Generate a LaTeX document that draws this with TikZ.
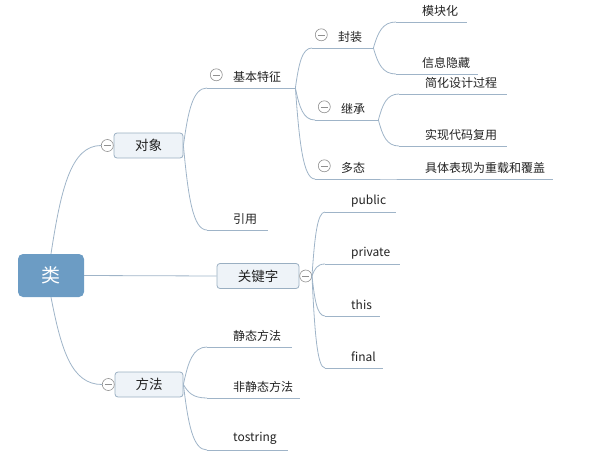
\documentclass[tikz,border=0pt]{standalone}
\usepackage{fontspec}
\setmainfont{Noto Sans CJK SC}
\usepackage{tikz}
\usetikzlibrary{positioning,calc}
\definecolor{linecol}{HTML}{9FB4C8}
\definecolor{rootfill}{HTML}{6C9CC4}
\definecolor{boxfill}{HTML}{EEF3F8}
\definecolor{boxline}{HTML}{9AAFC2}
\definecolor{foldline}{HTML}{909090}
\definecolor{textcol}{HTML}{222222}

\begin{document}
\begin{tikzpicture}[
  x=1pt, y=-1pt,
  link/.style={draw=linecol, line width=0.8pt,
    to path={let \p1=(\tikztostart), \p2=(\tikztotarget) in
      .. controls ({\x1+0.2*(\x2-\x1)},{\y1+0.6*(\y2-\y1)}) and ({\x1+0.4*(\x2-\x1)},{\y2}) .. (\tikztotarget) \tikztonodes}},
  straight/.style={draw=linecol, line width=0.8pt},
  rootbox/.style={rectangle, rounded corners=5pt, fill=rootfill, text=white, font=\fontsize{19}{21}\selectfont, minimum width=66pt, minimum height=43pt},
  mainbox/.style={rectangle, rounded corners=3pt, draw=boxline, fill=boxfill, text=textcol, font=\fontsize{13.5}{16}\selectfont, minimum height=25pt, line width=0.8pt},
  topic/.style={anchor=south west, inner sep=0pt, minimum height=22pt, text width=#1, align=left, text=textcol,
    font=\fontsize{12}{14}\selectfont, execute at begin node={\hspace*{26pt}},
    append after command={(\tikzlastnode.south west) edge[straight] (\tikzlastnode.south east)}},
  fold/.style={circle, draw=foldline, fill=white, minimum size=12pt, inner sep=0pt, line width=0.6pt,
    path picture={\draw[foldline, line width=0.6pt] ([xshift=2.5pt]path picture bounding box.west) -- ([xshift=-2.5pt]path picture bounding box.east);}},
  subfold/.style={fold, yshift=2pt}
]
\useasboundingbox (0,0) rectangle (598,472);

% Level 0
\node[rootbox] (cls) at (51,275.5) {类};

% Level 1
\node[mainbox, minimum width=69pt] (obj) at (148.5,145.5) {对象};
\node[mainbox, minimum width=82pt] (kw) at (258,276) {关键字};
\node[mainbox, minimum width=68pt] (mtd) at (149,384.5) {方法};
\node[fold, left=0pt of obj] (objf) {};
\node[fold, right=0pt of kw] (kwf) {};
\node[fold, left=0pt of mtd] (mtdf) {};

\draw[link] (cls.north) to (objf.west);
\draw[straight] (cls.east) -- (kw.west);
\draw[link] (cls.south) to (mtdf.west);

% Level 2 (for obj)
\node[topic=88] (jbtz) at (207,88) {基本特征};
\node[topic=61] (yy) at (207,230) {引用};
\node[subfold, right=3pt of jbtz.west] (jbtzf) {};

\draw[link] (obj.east) to (jbtz.south west);
\draw[link] (obj.east) to (yy.south west);

% Level 3 (for jbtz)
\node[topic=61] (fz) at (312,48) {封装};
\node[topic=63] (jc) at (315,120) {继承};
\node[topic=63] (dt) at (315,179) {多态};
\node[subfold, right=3pt of fz.west] (fzf) {};
\node[subfold, right=3pt of jc.west] (jcf) {};
\node[subfold, right=3pt of dt.west] (dtf) {};

\draw[link] (jbtz.south east) to (fz.south west);
\draw[link] (jbtz.south east) to (jc.south west);
\draw[link] (jbtz.south east) to (dt.south west);

% Level 4
\node[topic=71] (mkh) at (396,22) {模块化};
\node[topic=82] (xxyc) at (396,74) {信息隐藏};
\node[topic=108] (jhsj) at (399,94) {简化设计过程};
\node[topic=108] (sxdm) at (399,146) {实现代码复用};
\node[topic=154] (jtbx) at (399,179) {具体表现为重载和覆盖};

\draw[link] (fz.south east) to (mkh.south west);
\draw[link] (fz.south east) to (xxyc.south west);
\draw[link] (jc.south east) to (jhsj.south west);
\draw[link] (jc.south east) to (sxdm.south west);
\draw[link] (dt.south east) to (jtbx.south west);

% Level 2 (for kw)
\node[topic=71] (pub) at (325,212) {public};
\node[topic=75] (pri) at (325,264) {private};
\node[topic=55] (ths) at (325,316) {this};
\node[topic=58] (fin) at (325,368) {final};

\draw[link] (kwf.east) to (pub.south west);
\draw[link] (kwf.east) to (pri.south west);
\draw[link] (kwf.east) to (ths.south west);
\draw[link] (kwf.east) to (fin.south west);

% Level 2 (for mtd)
\node[topic=85] (jtff) at (207,347) {静态方法};
\node[topic=93] (fjt) at (207,398) {非静态方法};
\node[topic=81] (tos) at (207,450) {tostring};

\draw[link] (mtd.east) to (jtff.south west);
\draw[link] (mtd.east) to (fjt.south west);
\draw[link] (mtd.east) to (tos.south west);
\end{tikzpicture}
\end{document}
